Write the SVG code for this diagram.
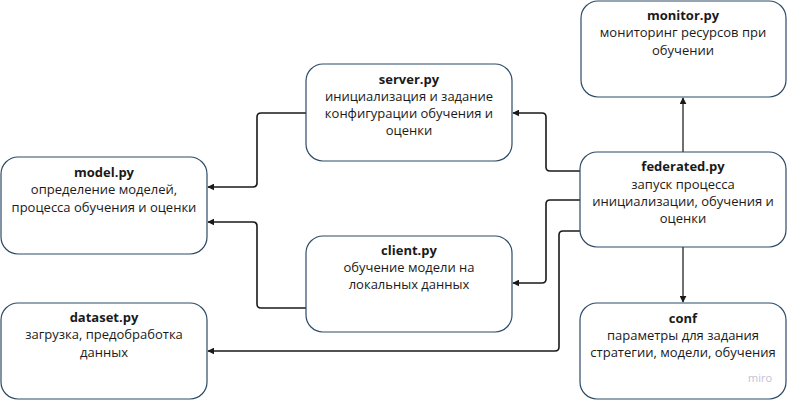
<svg xmlns="http://www.w3.org/2000/svg" width="787" height="400" viewBox="0 0 787 400">
<defs>
<style>
.box{fill:#ffffff;stroke:#2c4a66;stroke-width:1.2}
.t{font-family:"Open Sans","Noto Sans","Liberation Sans",sans-serif;font-size:13px;fill:#1a1a1a;text-anchor:middle}
.b{font-weight:bold}
.c{fill:none;stroke:#1a1a1a;stroke-width:1.6;stroke-linejoin:round}
.cg{fill:none;stroke:#333333;stroke-width:1.4}
</style>
<marker id="ah" viewBox="0 0 10 10" refX="9" refY="5" markerWidth="7" markerHeight="7" markerUnits="userSpaceOnUse" orient="auto">
<path d="M0,0 L10,5 L0,10 z" fill="#1a1a1a"/>
</marker>
</defs>
<rect width="787" height="400" fill="#ffffff"/>
<g id="connectors">
<path class="c" d="M580,171 H550 Q546,171 546,167 V117 Q546,113 542,113 H513" marker-end="url(#ah)"/>
<path class="c" d="M306,113 H261 Q257,113 257,117 V183 Q257,187 253,187 H208" marker-end="url(#ah)"/>
<path class="c" d="M306,308 H261 Q257,308 257,304 V226 Q257,222 253,222 H208" marker-end="url(#ah)"/>
<path class="c" d="M580,200 H550 Q546,200 546,204 V279 Q546,283 542,283 H513" marker-end="url(#ah)"/>
<path class="c" d="M580,231 H563 Q559,231 559,235 V347 Q559,351 555,351 H208" marker-end="url(#ah)"/>
<path class="cg" d="M683,152 V98" marker-end="url(#ah)"/>
<path class="cg" d="M683,247 V302" marker-end="url(#ah)"/>
</g>
<g id="model">
<rect class="box" x="1" y="157" width="206" height="97" rx="17"/>
<text class="t b" x="104" y="177">model.py</text>
<text class="t" x="104" y="194">определение моделей,</text>
<text class="t" x="104" y="212">процесса обучения и оценки</text>
</g>
<g id="dataset">
<rect class="box" x="1" y="303" width="206" height="96" rx="17"/>
<text class="t b" x="104" y="322">dataset.py</text>
<text class="t" x="104" y="339">загрузка, предобработка</text>
<text class="t" x="104" y="357">данных</text>
</g>
<g id="server">
<rect class="box" x="306" y="64" width="206" height="97" rx="17"/>
<text class="t b" x="409" y="84">server.py</text>
<text class="t" x="409" y="101">инициализация и задание</text>
<text class="t" x="409" y="118">конфигурации обучения и</text>
<text class="t" x="409" y="135">оценки</text>
</g>
<g id="client">
<rect class="box" x="306" y="236" width="206" height="96" rx="17"/>
<text class="t b" x="409" y="255">client.py</text>
<text class="t" x="409" y="272">обучение модели на</text>
<text class="t" x="409" y="289">локальных данных</text>
</g>
<g id="monitor">
<rect class="box" x="581" y="1" width="205" height="96" rx="17"/>
<text class="t b" x="683" y="20">monitor.py</text>
<text class="t" x="683" y="37">мониторинг ресурсов при</text>
<text class="t" x="683" y="55">обучении</text>
</g>
<g id="federated">
<rect class="box" x="580" y="152" width="206" height="95" rx="17"/>
<text class="t b" x="683" y="171">federated.py</text>
<text class="t" x="683" y="189">запуск процесса</text>
<text class="t" x="683" y="206">инициализации, обучения и</text>
<text class="t" x="683" y="223">оценки</text>
</g>
<g id="conf">
<rect class="box" x="580" y="303" width="206" height="96" rx="17"/>
<text class="t b" x="683" y="323">conf</text>
<text class="t" x="683" y="340">параметры для задания</text>
<text class="t" x="683" y="357">стратегии, модели, обучения</text>
</g>
<text x="760" y="382" font-family="'Open Sans','Noto Sans',sans-serif" font-size="11" fill="#c4c1d6" text-anchor="middle">miro</text>
</svg>
